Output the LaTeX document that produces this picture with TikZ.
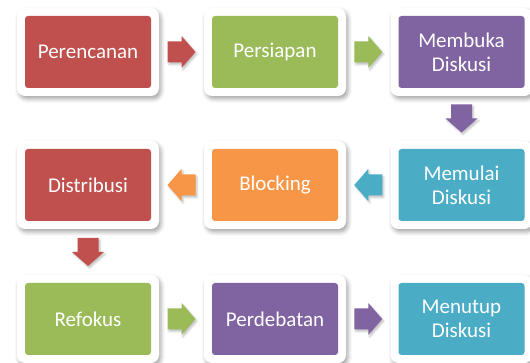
\documentclass[tikz,border=0pt]{standalone}
\usepackage{fontspec}
\setmainfont{Carlito}
\usetikzlibrary{shadows.blur,calc}
\definecolor{cred}{HTML}{C0504D}
\definecolor{cgreen}{HTML}{9BBB59}
\definecolor{cpurple}{HTML}{8064A2}
\definecolor{cteal}{HTML}{4BACC6}
\definecolor{corange}{HTML}{F79646}
\newcommand\blockarr[3]{\fill[arrowstyle,#1,shift={(#2)},rotate=#3] (-14,-10.5) -- (0,-10.5) -- (0,-16) -- (14,0) -- (0,16) -- (0,10.5) -- (-14,10.5) -- cycle;}
\begin{document}
\begin{tikzpicture}[x=1pt,y=1pt,
  frame/.style={fill=white, rounded corners=8pt, minimum width=142pt, minimum height=88pt, inner sep=0pt,
    blur shadow={shadow xshift=2pt, shadow yshift=-3pt, shadow blur radius=4pt, shadow opacity=35}},
  box/.style={fill=#1, rounded corners=3pt, minimum width=126pt, minimum height=72pt, text=white,
    font=\fontsize{21}{24}\selectfont, align=center, inner sep=0pt},
  arrowstyle/.style={blur shadow={shadow xshift=1.5pt, shadow yshift=-2pt, shadow blur radius=2pt, shadow opacity=25}}
]
\useasboundingbox (0,0) rectangle (530,363);
% frames
\node[frame] (f1) at (88,311) {};
\node[frame] (f2) at (275,311) {};
\node[frame] (f3) at (461.5,311) {};
\node[frame] (f4) at (461.5,178) {};
\node[frame] (f5) at (275,178) {};
\node[frame] (f6) at (88,178) {};
\node[frame] (f7) at (88,44) {};
\node[frame] (f8) at (275,44) {};
\node[frame] (f9) at (461.5,44) {};
% boxes
\node[box=cred] (b1) at (f1) {Perencanan};
\node[box=cgreen] (b2) at (f2) {Persiapan};
\node[box=cpurple] (b3) at (f3) {Membuka\\Diskusi};
\node[box=cteal] (b4) at (f4) {Memulai\\Diskusi};
\node[box=corange] (b5) at (f5) {Blocking};
\node[box=cred] (b6) at (f6) {Distribusi};
\node[box=cgreen] (b7) at (f7) {Refokus};
\node[box=cpurple] (b8) at (f8) {Perdebatan};
\node[box=cteal] (b9) at (f9) {Menutup\\Diskusi};
% arrow positions
\coordinate (m12) at ($(f1.east)!0.5!(f2.west)$);
\coordinate (m23) at ($(f2.east)!0.5!(f3.west)$);
\coordinate (m34) at ($(f3.south)!0.5!(f4.north)$);
\coordinate (m45) at ($(f4.west)!0.5!(f5.east)$);
\coordinate (m56) at ($(f5.west)!0.5!(f6.east)$);
\coordinate (m67) at ($(f6.south)!0.5!(f7.north)$);
\coordinate (m78) at ($(f7.east)!0.5!(f8.west)$);
\coordinate (m89) at ($(f8.east)!0.5!(f9.west)$);
\blockarr{cred}{m12}{0}
\blockarr{cgreen}{m23}{0}
\blockarr{cpurple}{m34}{-90}
\blockarr{cteal}{m45}{180}
\blockarr{corange}{m56}{180}
\blockarr{cred}{m67}{-90}
\blockarr{cgreen}{m78}{0}
\blockarr{cpurple}{m89}{0}
\end{tikzpicture}
\end{document}
